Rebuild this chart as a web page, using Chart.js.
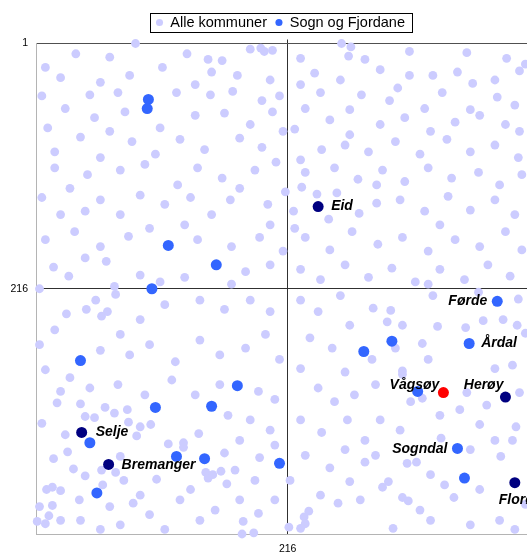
<!DOCTYPE html>
<html><head><meta charset="utf-8">
<script src="https://cdn.jsdelivr.net/npm/chart.js@4/dist/chart.umd.min.js"></script>
<style>
html,body{margin:0;padding:0;overflow:hidden;background:#fff;width:527px;height:552px}
#wrap{position:absolute;left:0;top:0;width:561px;height:560px}
</style></head><body>
<div id="wrap"><canvas id="c" width="561" height="560"></canvas></div>
<script>
// ---- data ----
const axisMin = 1, axisMax = 431, axisCross = 216;
const seriesNames = ['Alle kommuner', 'Sogn og Fjordane'];

const alleKommuner = [
[86,1],[35,10],[64,13],[130,10],[148,15],[160,16],[184,6],[193,5],[196,8],[203,7],
[81,29],[109,22],[173,29],[56,35],[22,31],[137,37],[151,26],[201,33],[9,22],
[6,47],[47,46],[71,44],[121,44],[150,46],[169,43],[194,51],[209,47],
[26,58],[51,66],[77,61],[137,64],[162,62],[184,72],[203,61],[11,75],[107,75],[64,78],
[39,83],[83,87],[124,85],[145,94],[175,84],[194,92],[212,78],[17,96],[103,98],[56,101],
[17,110],[45,116],[73,112],[94,107],[139,110],[160,119],[188,112],[206,105],[30,128],[122,125],[175,128],
[6,136],[56,138],[90,134],[111,142],[133,136],[167,138],[199,142],[22,151],[73,151],[151,151],[43,148],
[9,173],[34,166],[56,179],[80,170],[98,163],[139,173],[168,179],[192,171],[212,183],[43,189],[128,160],[201,160],
[16,197],[29,205],[61,192],[4,216],[68,214],[90,204],[128,206],[180,201],[201,195],[168,212],[107,210],
[262,1],[270,4],[268,12],[282,15],[369,9],[403,14],[320,8],[227,14],[419,19],[414,25],[361,26],[374,36],
[239,27],[295,24],[320,29],[340,29],[261,33],[310,40],[227,37],[393,33],
[244,44],[279,46],[303,51],[348,44],[395,48],[410,55],[269,59],[231,58],[333,58],[372,59],
[252,68],[295,72],[316,66],[359,70],[380,64],[402,72],[222,76],[269,81],[338,78],[414,78],
[245,94],[265,90],[285,96],[308,87],[329,98],[352,85],[372,96],[393,90],[413,101],[227,103],
[231,114],[256,110],[276,120],[297,112],[316,122],[336,110],[356,119],[379,114],[397,125],[416,116],
[214,131],[228,127],[241,133],[258,132],[221,148],[251,155],[277,150],[292,141],[292,125],[312,138],[333,148],[353,135],[372,147],[393,138],[410,151],
[231,171],[252,182],[271,166],[293,177],[314,171],[336,183],[359,173],[380,179],[402,166],[416,182],[222,163],[346,160],
[227,199],[244,208],[265,195],[285,206],[305,198],[325,210],[336,212],[346,199],[367,208],[387,195],[406,205],
[340,222],[379,219],[413,225],[289,233],[304,235],[301,245],[314,248],[344,249],[368,250],[383,244],[400,243],[412,248],[419,255],
[331,264],[308,268],[288,278],[336,278],[393,286],[408,283],[314,288],[314,291],[291,300],[369,307],[321,315],[331,312],[386,318],[414,307],
[347,347],[411,337],[408,349],[398,363],[318,369],[326,368],[302,385],[297,390],[314,399],[319,402],[358,399],[419,405],[306,426],
[230,416],[234,411],[231,422],[227,426],[217,425],[259,404],
[227,226],[242,236],[261,222],[269,248],[235,259],[254,268],[227,286],[265,289],[242,303],[256,315],[273,309],
[227,331],[245,342],[267,331],[282,349],[231,362],[252,373],[269,385],[282,368],[244,397],[278,401],[265,357],[218,384],
[295,331],[312,340],[346,327],[363,322],[380,335],[393,349],[372,357],[338,379],[350,388],[380,392],[397,419],[372,423],[338,419],[410,427],[291,362],[329,410],
[52,226],[44,234],[57,240],[62,236],[27,238],[69,221],
[19,316],[39,317],[60,320],[68,325],[79,322],[43,328],[51,329],[6,334],[80,333],[90,337],[99,335],[26,344],[87,345],[140,343],[165,327],
[28,359],[16,365],[73,363],[114,352],[127,351],[127,355],[162,360],[33,374],[43,380],[57,375],[69,377],[76,384],[104,383],
[146,377],[148,382],[152,379],[159,376],[164,387],[10,392],[15,390],[22,393],[58,388],[38,401],[64,407],[84,404],[4,407],[15,406],
[12,415],[2,420],[9,422],[178,420],[191,413],[205,401],[177,431],[187,430],
[4,265],[17,252],[73,256],[90,243],[111,230],[141,226],[162,234],[184,226],[201,236],
[9,287],[30,294],[56,270],[81,274],[98,265],[120,280],[141,261],[158,274],[180,268],[197,256],[209,278],
[22,306],[47,303],[71,300],[94,309],[117,296],[137,309],[158,300],[191,306],[205,313],
[184,331],[201,340],[175,349],[192,364],[205,353],[175,401],[124,401],[98,414],[141,419],[73,423],[39,419],[111,427],[154,410],[171,375],[188,384],[133,392],[90,397],[22,419],[56,427]
];

// Sogn og Fjordane, unlabelled
const sognOgFjordane = [
[97,50],[96,58],[114,178],[155,195],[100,216],[39,279],[103,320],[151,319],[173,301],
[47,351],[121,363],[145,365],[53,395],[209,369],[281,271],[305,262],[327,306],[367,382]
];

// Sogn og Fjordane, labelled
const merkedeNavn    = ['Førde','Årdal','Sogndal','Eid','Selje','Bremanger','Herøy','Florø','Vågsøy'];
const merkedeVerdier = [[395,227],[371,264],[361,356],[242,144],[40,342],[63,370],[402,311],[410,386],[349,307]];
const merkedeGruppe  = ['blå','blå','blå','mørk','mørk','mørk','mørk','mørk','rød'];

const yTickValues = [1, 216, 431];
const xTickValues = [1, 216, 431];

// ---- styles ----
const COL_LIGHT = '#ccccff', COL_BLUE = '#3366ff', COL_NAVY = '#000080', COL_RED = '#ff0000';
const FONT = '"Liberation Sans", Arial, Helvetica, sans-serif';
const labelPlacement = {
  'Eid':       ['left', 13, 0],
  'Selje':     ['left', 14, 0],
  'Bremanger': ['left', 13, 1],
  'Førde':     ['right', -10, 0],
  'Årdal':     ['left', 12, 0],
  'Vågsøy':    ['right', -4, -7],
  'Herøy':     ['right', -2, -12],
  'Sogndal':   ['right', -10, 1],
  'Florø':     ['left', -16, 17]
};

const toPts = arr => arr.map(([x, y]) => ({x, y}));
const group = g => merkedeVerdier.filter((v, i) => merkedeGruppe[i] === g);

const labelPlugin = {
  id: 'labels',
  afterDatasetsDraw(chart) {
    const ctx = chart.ctx, xs = chart.scales.x, ys = chart.scales.y;
    ctx.save();
    ctx.font = 'bold italic 14px ' + FONT;
    ctx.fillStyle = '#000';
    ctx.textBaseline = 'middle';
    merkedeNavn.forEach((n, i) => {
      const p = labelPlacement[n];
      const px = xs.getPixelForValue(merkedeVerdier[i][0]);
      const py = ys.getPixelForValue(merkedeVerdier[i][1]);
      ctx.textAlign = p[0];
      ctx.fillText(n, px + p[1], py + p[2]);
    });
    ctx.restore();
  },
  afterDraw(chart) {
    const hb = chart.legend && chart.legend.legendHitBoxes;
    if (!hb || !hb.length) return;
    const ctx = chart.ctx;
    const first = hb[0], last = hb[hb.length - 1];
    const l = Math.round(first.left - 6.5) + 0.5;
    const r = Math.round(last.left + last.width + 7) + 0.5;
    const t = Math.round(first.top - 2) + 0.5;
    const b = Math.round(first.top + first.height + 2) + 0.5;
    ctx.save();
    ctx.strokeStyle = '#000';
    ctx.lineWidth = 1;
    ctx.strokeRect(l, t, r - l, b - t);
    ctx.restore();
  }
};

const gridY = c => {
  const v = c.tick && c.tick.value;
  if (v === 1) return '#505050';
  if (v === 216) return '#303030';
  return '#b4b4b4';
};
const gridX = c => {
  const v = c.tick && c.tick.value;
  if (v === 216) return '#303030';
  if (v === 1) return '#b4b4b4';
  return 'rgba(0,0,0,0)';
};

new Chart(document.getElementById('c'), {
  type: 'scatter',
  data: {
    datasets: [
      { label: seriesNames[0], data: toPts(alleKommuner), backgroundColor: COL_LIGHT, borderWidth: 0,
        pointRadius: 4.4, pointHoverRadius: 4.4, clip: false, order: 2 },
      { label: seriesNames[1], data: toPts(sognOgFjordane.concat(group('blå'))), backgroundColor: COL_BLUE, borderWidth: 0,
        pointRadius: 5.5, pointHoverRadius: 5.5, clip: false, order: 1 },
      { label: 'mørk', data: toPts(group('mørk')), backgroundColor: COL_NAVY, borderWidth: 0,
        pointRadius: 5.5, pointHoverRadius: 5.5, clip: false, order: 0 },
      { label: 'rød', data: toPts(group('rød')), backgroundColor: COL_RED, borderWidth: 0,
        pointRadius: 5.5, pointHoverRadius: 5.5, clip: false, order: 0 }
    ]
  },
  options: {
    responsive: false,
    animation: false,
    devicePixelRatio: 1,
    events: [],
    layout: { padding: { left: 21.6, right: 21.6, top: 6.75, bottom: 0 } },
    plugins: {
      tooltip: { enabled: false },
      legend: {
        position: 'top',
        labels: {
          usePointStyle: true, pointStyle: 'circle', boxWidth: 7, boxHeight: 5, padding: 8.5,
          color: '#000', font: { family: FONT, size: 14.5 },
          filter: item => item.datasetIndex < 2,
          sort: (a, b) => a.datasetIndex - b.datasetIndex
        }
      }
    },
    scales: {
      xTop: {
        type: 'linear', position: 'top', min: axisMin, max: axisMax,
        afterBuildTicks: s => { s.ticks = [{ value: axisCross }]; },
        ticks: { display: false },
        grid: { drawOnChartArea: false, drawTicks: true, tickLength: 4, tickColor: '#303030', color: '#303030' },
        border: { color: '#505050', width: 1 },
        afterFit: s => { s.height = 3.75; }
      },
      x: {
        type: 'linear', position: 'bottom', min: axisMin, max: axisMax,
        afterBuildTicks: s => { s.ticks = xTickValues.map(v => ({ value: v })); },
        ticks: { callback: v => (v === axisCross ? String(v) : ''), autoSkip: false, maxRotation: 0,
                 padding: 9, color: '#000', font: { family: FONT, size: 10.5 } },
        grid: { drawTicks: false, color: gridX, lineWidth: 1 },
        border: { color: '#b4b4b4', width: 1 },
        afterFit: s => { s.height = 26; }
      },
      y: {
        type: 'linear', reverse: true, min: axisMin, max: axisMax,
        afterBuildTicks: s => { s.ticks = yTickValues.map(v => ({ value: v })); },
        ticks: { callback: v => (v === axisMax ? '' : String(v)), autoSkip: false,
                 mirror: true, crossAlign: 'far', padding: -25.5,
                 color: '#000', font: { family: FONT, size: 10.5 } },
        grid: { drawTicks: false, color: gridY, lineWidth: 1 },
        border: { color: '#b4b4b4', width: 1 },
        afterFit: s => { s.width = 14.4; }
      }
    }
  },
  plugins: [labelPlugin]
});
</script>
</body></html>
